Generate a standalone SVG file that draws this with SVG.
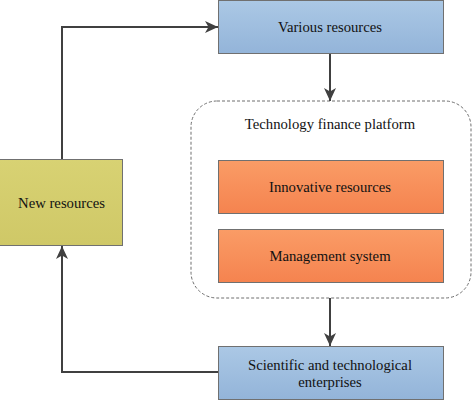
<svg xmlns="http://www.w3.org/2000/svg" width="474" height="402" viewBox="0 0 474 402">
<defs>
<linearGradient id="gBlue" x1="0" y1="0" x2="0" y2="1"><stop offset="0" stop-color="#abc8e5"/><stop offset="1" stop-color="#93b4d9"/></linearGradient>
<linearGradient id="gOrange" x1="0" y1="0" x2="0" y2="1"><stop offset="0" stop-color="#fa9c66"/><stop offset="1" stop-color="#f5834f"/></linearGradient>
<linearGradient id="gOlive" x1="0" y1="0" x2="0" y2="1"><stop offset="0" stop-color="#d8d273"/><stop offset="1" stop-color="#cfc867"/></linearGradient>
<marker id="arr" viewBox="0 0 13 12" refX="13" refY="6" markerWidth="13" markerHeight="12" markerUnits="userSpaceOnUse" orient="auto">
<path d="M0,0 L13,6 L0,12 L3.5,6 Z" fill="#404040"/>
</marker>
</defs>
<style>
.box{stroke:#707070;stroke-width:1}
.t{font-family:'Liberation Serif','Times New Roman',serif;font-size:14.7px;fill:#111111;text-anchor:middle;dominant-baseline:central}
.c{fill:none;stroke:#404040;stroke-width:2}
</style>
<rect width="474" height="402" fill="#ffffff"/>
<g id="platform">
<rect x="191" y="101" width="280" height="197" rx="26" ry="26" fill="none" stroke="#6f6f6f" stroke-width="1" stroke-dasharray="3,2"/>
<text class="t" x="330" y="124">Technology finance platform</text>
</g>
<g id="various">
<rect class="box" x="218.5" y="0.5" width="225" height="53" fill="url(#gBlue)"/>
<text class="t" x="330" y="27">Various resources</text>
</g>
<g id="innovative">
<rect class="box" x="218.5" y="160.5" width="225" height="53" fill="url(#gOrange)"/>
<text class="t" x="330" y="187">Innovative resources</text>
</g>
<g id="management">
<rect class="box" x="218.5" y="229.5" width="225" height="53" fill="url(#gOrange)"/>
<text class="t" x="330" y="256">Management system</text>
</g>
<g id="enterprises">
<rect class="box" x="218.5" y="346.5" width="225" height="53" fill="url(#gBlue)"/>
<text class="t" x="330" y="364.5">Scientific and technological</text>
<text class="t" x="330" y="382">enterprises</text>
</g>
<g id="new">
<rect class="box" x="-0.5" y="159.5" width="123" height="86" fill="url(#gOlive)"/>
<text class="t" x="61.5" y="203">New resources</text>
</g>
<g id="connectors">
<path class="c" d="M62,159 V27 H218" marker-end="url(#arr)"/>
<path class="c" d="M330,54 V101" marker-end="url(#arr)"/>
<path class="c" d="M330,298 V346" marker-end="url(#arr)"/>
<path class="c" d="M218,372 H62 V246" marker-end="url(#arr)"/>
</g>
</svg>
